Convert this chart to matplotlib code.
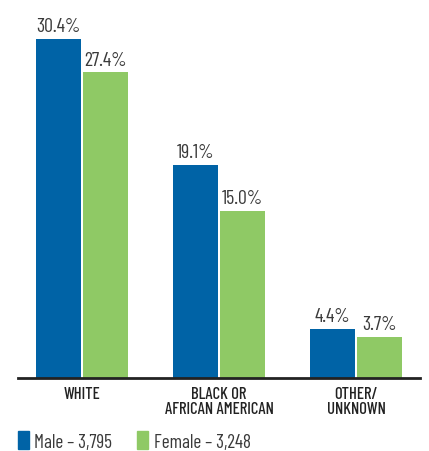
import matplotlib
matplotlib.use("Agg")
import matplotlib.pyplot as plt
from matplotlib.patches import Patch
import numpy as np

categories = ["WHITE", "BLACK OR\nAFRICAN AMERICAN", "OTHER/\nUNKNOWN"]
male = [30.4, 19.1, 4.4]
female = [27.4, 15.0, 3.7]
male_label = "Male – 3,795"
female_label = "Female – 3,248"

BLUE = "#0063A6"
GREEN = "#8FC965"
TEXT = "#3a3a3a"
plt.rcParams["font.family"] = ["Barlow Condensed", "DejaVu Sans"]

fig = plt.figure(figsize=(4.29, 4.52), dpi=100)
ax = fig.add_axes([18/429, 73/452, 402/429, 379/452])

x = np.arange(len(categories))
w = 0.328
off = 0.1715
bm = ax.bar(x - off, male, w, color=BLUE)
bf = ax.bar(x + off, female, w, color=GREEN)

for rects, vals in ((bm, male), (bf, female)):
    for r, v in zip(rects, vals):
        ax.text(r.get_x() + r.get_width()/2, v + 0.35, f"{v:.1f}%",
                ha="center", va="bottom", fontsize=14.3, color=TEXT)

ax.set_xlim(-0.467, 2.467)
ax.set_ylim(0, 379/11.15)
ax.set_yticks([])
ax.set_xticks(x)
ax.set_xticklabels(categories, fontsize=12, color="#222222", linespacing=0.95,
                   fontweight="medium")
ax.tick_params(axis="x", length=0, pad=6)
for s in ("left", "right", "top"):
    ax.spines[s].set_visible(False)
ax.spines["bottom"].set_linewidth(2.0)
ax.spines["bottom"].set_color("#222222")

handles = [Patch(color=BLUE, label=male_label), Patch(color=GREEN, label=female_label)]
fig.legend(handles=handles, loc="center left", bbox_to_anchor=(0.042, 10/452),
           ncol=2, frameon=False, fontsize=13.8, handlelength=0.55, handleheight=1.0,
           handletextpad=0.3, columnspacing=1.3, borderpad=0, borderaxespad=0,
           labelcolor=TEXT)

fig.savefig("out.png", dpi=100)
